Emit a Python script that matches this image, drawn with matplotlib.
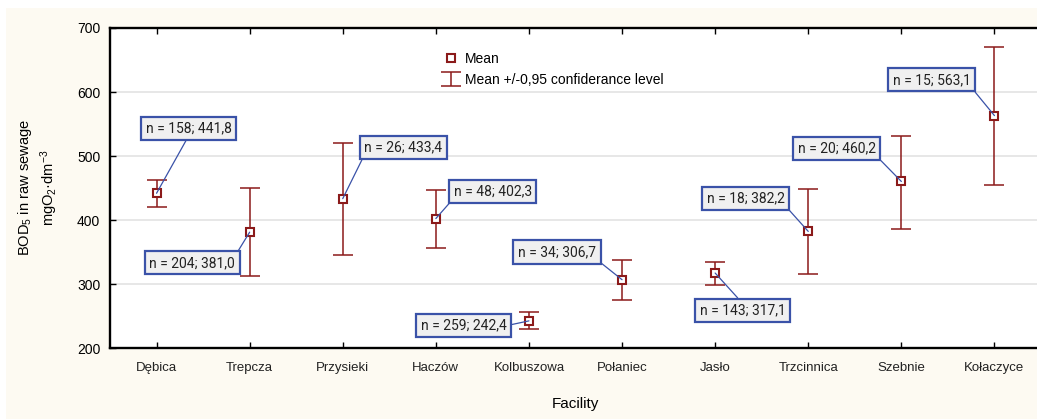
import matplotlib
matplotlib.use("Agg")
import matplotlib.pyplot as plt
from matplotlib.patches import Rectangle

plt.rcParams['font.family'] = ['Liberation Sans', 'DejaVu Sans']
plt.rcParams['mathtext.fontset'] = 'custom'
plt.rcParams['mathtext.rm'] = 'Liberation Sans'
plt.rcParams['mathtext.it'] = 'Liberation Sans:italic'

# ---- data ----
facilities = ['Dębica', 'Trepcza', 'Przysieki', 'Haczów', 'Kolbuszowa',
              'Połaniec', 'Jasło', 'Trzcinnica', 'Szebnie', 'Kołaczyce']
n_obs = [158, 204, 26, 48, 259, 34, 143, 18, 20, 15]
means = [441.8, 381.0, 433.4, 402.3, 242.4, 306.7, 317.1, 382.2, 460.2, 563.1]
ci_low = [421, 313, 345, 357, 229, 275, 299, 316, 386, 455]
ci_high = [462, 450, 521, 447, 257, 337, 335, 448, 532, 670]

# ---- layout for the label boxes (box centre in data coords, line anchor on box) ----
label_pos = [(0.347, 543), (0.383, 333), (2.653, 513), (3.612, 445), (3.301, 235),
             (4.302, 350), (6.294, 259), (6.330, 434), (7.306, 512), (8.328, 619)]
label_rel = [(0.5, 0), (1, 1), (0, 0), (0, 0), (1, 0.5),
             (1, 0), (0.5, 1), (1, 0), (1, 0), (1, 0)]

W, H = 1037, 419
fig = plt.figure(figsize=(W / 100, H / 100), dpi=100, facecolor='white')
cream = '#fdfaf2'
fig.patches.append(Rectangle((6 / W, 0), 1, 1 - 8 / H, transform=fig.transFigure,
                             facecolor=cream, edgecolor='none', zorder=-10))

ax_left, ax_right = 110, 1041
ax_top, ax_bottom = 28, 348
ax = fig.add_axes([ax_left / W, (H - ax_bottom) / H,
                   (ax_right - ax_left) / W, (ax_bottom - ax_top) / H])
ax.set_facecolor('white')

red = '#8b1a1a'
blue = '#3a52a8'
x = list(range(len(facilities)))
yerr = [[m - lo for m, lo in zip(means, ci_low)],
        [hi - m for m, hi in zip(means, ci_high)]]

ax.errorbar(x, means, yerr=yerr, fmt='none', ecolor=red, elinewidth=1.1,
            capsize=7.5, capthick=1.1, zorder=3,
            label='Mean +/-0,95 confiderance level')
ax.plot(x, means, 's', ms=6.3, mfc='white', mec=red, mew=1.5, zorder=4,
        linestyle='none', label='Mean')

for i in x:
    txt = f"n = {n_obs[i]}; {means[i]:.1f}".replace('.', ',')
    ax.annotate(txt, xy=(i, means[i]), xytext=label_pos[i], textcoords='data',
                ha='center', va='center', fontsize=10, family=['Roboto', 'DejaVu Sans'],
                color='#222222',
                bbox=dict(boxstyle='square,pad=0.33', facecolor='#f0f0f0',
                          edgecolor=blue, linewidth=1.6),
                arrowprops=dict(arrowstyle='-', color=blue, lw=0.9,
                                relpos=label_rel[i], shrinkA=0, shrinkB=0),
                zorder=5)

ax.set_xlim(-0.5, 9.5)
ax.set_ylim(200, 700)
ax.set_yticks([200, 300, 400, 500, 600, 700])
ax.set_xticks(x)
ax.set_xticklabels(facilities, fontsize=9.5, color='#222222')
ax.tick_params(axis='y', labelsize=10, direction='in', length=4, width=1, pad=7)
ax.tick_params(axis='x', direction='in', length=4, width=1, pad=10, top=True)
ax.grid(axis='y', color='#e3e3e3', linewidth=1.2)
ax.set_axisbelow(True)
for s in ax.spines.values():
    s.set_linewidth(1.7)
    s.set_color('black')

ax.set_ylabel('BOD$_5$ in raw sewage\nmgO$_2$·dm$^{-3}$', fontsize=10.5,
              linespacing=1.25)
ax.yaxis.set_label_coords((60 - ax_left) / (ax_right - ax_left), 0.5)
ax.set_xlabel('Facility', fontsize=11)
ax.xaxis.set_label_coords(0.5, -(397 - ax_bottom) / (ax_bottom - ax_top))

handles, labels = ax.get_legend_handles_labels()
order = [labels.index('Mean'), labels.index('Mean +/-0,95 confiderance level')]
ax.legend([handles[k] for k in order], [labels[k] for k in order],
          loc='upper left', bbox_to_anchor=(444 / W, 1 - 52 / H),
          bbox_transform=fig.transFigure, frameon=False, fontsize=10,
          handlelength=1.0, handletextpad=0.5, borderpad=0, borderaxespad=0,
          labelspacing=0.5)

fig.savefig('out.png', dpi=100, facecolor=fig.get_facecolor())
